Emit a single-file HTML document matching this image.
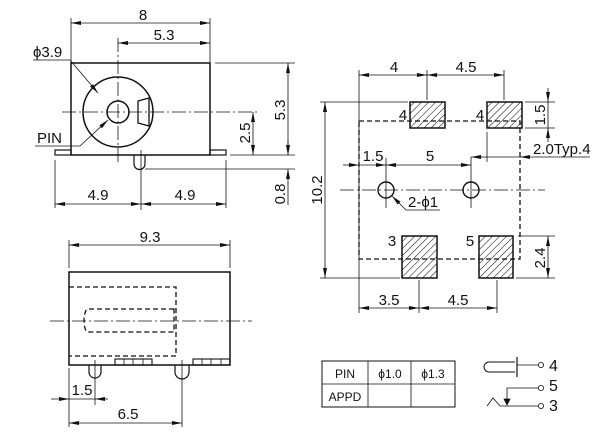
<!DOCTYPE html>
<html><head><meta charset="utf-8"><style>
html,body{margin:0;padding:0;background:#fff;}
svg{display:block;}
text{font-family:"Liberation Sans",sans-serif;font-size:15px;fill:#111;}
</style></head><body>
<svg width="608" height="443" viewBox="0 0 608 443" xmlns="http://www.w3.org/2000/svg">
<defs>
<marker id="a" viewBox="0 0 10 4" refX="10" refY="2" markerWidth="10" markerHeight="4" orient="auto-start-reverse" markerUnits="userSpaceOnUse"><path d="M0,0 L10,2 L0,4z" fill="#111"/></marker>
<pattern id="h" width="5" height="5" patternUnits="userSpaceOnUse" patternTransform="rotate(45)"><line x1="0" y1="0" x2="0" y2="5" stroke="#111" stroke-width="1.1"/></pattern>
</defs>
<g stroke="#111" fill="none" stroke-width="0.8">
<line x1="71" y1="18" x2="71" y2="63"/><line x1="210" y1="18" x2="210" y2="63"/>
<line x1="71" y1="23" x2="210" y2="23" marker-start="url(#a)" marker-end="url(#a)"/>
<line x1="118" y1="43" x2="210" y2="43" marker-start="url(#a)" marker-end="url(#a)"/>
<rect x="71" y="63" width="139" height="92" stroke-width="1.5"/>
<rect x="55" y="150" width="16" height="5" stroke-width="1.2"/>
<rect x="210" y="150" width="16" height="5" stroke-width="1.2"/>
<circle cx="118" cy="112" r="35" stroke-width="1.5"/>
<circle cx="118" cy="112" r="11" stroke-width="1.5"/>
<path d="M138,101 L149,98 L149,126 L138,123z" stroke-width="1.3"/>
<path d="M134,155 L134,164 A5.5,5.5 0 0 0 145,164 L145,155" stroke-width="1.2"/>
<line x1="62" y1="112" x2="258" y2="112" stroke-dasharray="14,3,2,3"/>
<line x1="118" y1="38" x2="118" y2="162" stroke-dasharray="14,3,2,3"/>
<line x1="33" y1="60" x2="70" y2="60"/><line x1="70" y1="60" x2="98" y2="93" marker-end="url(#a)"/>
<line x1="35" y1="146" x2="80" y2="146"/><line x1="80" y1="146" x2="108" y2="120" marker-end="url(#a)"/>
<line x1="215" y1="63" x2="295" y2="63"/><line x1="230" y1="155" x2="295" y2="155"/>
<line x1="145" y1="169" x2="295" y2="169"/>
<line x1="253" y1="112" x2="253" y2="155" marker-start="url(#a)" marker-end="url(#a)"/>
<line x1="288" y1="63" x2="288" y2="155" marker-start="url(#a)" marker-end="url(#a)"/>
<line x1="288" y1="169" x2="288" y2="205" marker-start="url(#a)"/>
<line x1="288" y1="140" x2="288" y2="155" marker-end="url(#a)"/>
<line x1="141" y1="150" x2="141" y2="210"/>
<line x1="55" y1="160" x2="55" y2="208"/><line x1="226" y1="160" x2="226" y2="208"/>
<line x1="55" y1="204" x2="141" y2="204" marker-start="url(#a)" marker-end="url(#a)"/>
<line x1="141" y1="204" x2="226" y2="204" marker-start="url(#a)" marker-end="url(#a)"/>
<line x1="69" y1="240" x2="69" y2="268"/><line x1="230" y1="240" x2="230" y2="268"/>
<line x1="69" y1="245" x2="230" y2="245" marker-start="url(#a)" marker-end="url(#a)"/>
<rect x="69" y="272" width="161" height="93" stroke-width="1.5"/>
<path d="M69,287 L176,287 L176,356 L69,356" stroke-dasharray="5,3" stroke-width="1.3"/>
<path d="M174,309 L88,309 A4,11.5 0 0 0 88,332 L174,332 Z" stroke-dasharray="5,3" stroke-width="1.3"/>
<line x1="50" y1="321" x2="252" y2="321" stroke-dasharray="14,3,2,3"/>
<rect x="115" y="359" width="37" height="6" stroke-width="1.1"/>
<line x1="124" y1="359" x2="124" y2="365"/><line x1="133" y1="359" x2="133" y2="365"/><line x1="143" y1="359" x2="143" y2="365"/>
<rect x="193" y="359" width="37" height="6" stroke-width="1.1"/>
<line x1="202" y1="359" x2="202" y2="365"/><line x1="211" y1="359" x2="211" y2="365"/><line x1="221" y1="359" x2="221" y2="365"/>
<path d="M89,365 L89,372 A6,6 0 0 0 101,372 L101,365" stroke-width="1.2"/>
<path d="M175,365 L175,372 A7,7 0 0 0 189,372 L189,365" stroke-width="1.2"/>
<line x1="95" y1="360" x2="95" y2="405"/><line x1="182" y1="360" x2="182" y2="427"/>
<line x1="69" y1="368" x2="69" y2="427"/>
<line x1="51" y1="399" x2="69" y2="399" marker-end="url(#a)"/>
<line x1="95" y1="399" x2="108" y2="399" marker-start="url(#a)"/>
<line x1="69" y1="399" x2="95" y2="399"/>
<line x1="69" y1="423" x2="182" y2="423" marker-start="url(#a)" marker-end="url(#a)"/>
<line x1="359" y1="70" x2="359" y2="313"/><line x1="427" y1="70" x2="427" y2="100"/><line x1="504" y1="70" x2="504" y2="100"/>
<line x1="359" y1="75" x2="427" y2="75" marker-start="url(#a)" marker-end="url(#a)"/>
<line x1="427" y1="75" x2="504" y2="75" marker-start="url(#a)" marker-end="url(#a)"/>
<rect x="359" y="121" width="161" height="138" stroke-dasharray="5,3" stroke-width="1.3"/>
<rect x="410" y="102" width="35" height="26" fill="url(#h)" stroke-width="1.5"/>
<rect x="487" y="102" width="35" height="26" fill="url(#h)" stroke-width="1.5"/>
<rect x="402" y="236" width="35" height="42" fill="url(#h)" stroke-width="1.5"/>
<rect x="479" y="236" width="34" height="42" fill="url(#h)" stroke-width="1.5"/>
<line x1="525" y1="102" x2="555" y2="102"/><line x1="525" y1="128" x2="555" y2="128"/>
<line x1="548" y1="88" x2="548" y2="102" marker-end="url(#a)"/>
<line x1="548" y1="102" x2="548" y2="128"/>
<line x1="548" y1="142" x2="548" y2="128" marker-end="url(#a)"/>
<line x1="487" y1="132" x2="487" y2="162"/>
<line x1="471" y1="157" x2="471" y2="175"/>
<line x1="471" y1="157" x2="487" y2="157" marker-start="url(#a)"/>
<line x1="487" y1="157" x2="520" y2="157"/>
<line x1="590" y1="157" x2="520" y2="157" marker-end="url(#a)"/>
<line x1="320" y1="102" x2="408" y2="102"/><line x1="320" y1="278" x2="400" y2="278"/>
<line x1="325" y1="102" x2="325" y2="278" marker-start="url(#a)" marker-end="url(#a)"/>
<line x1="343" y1="165" x2="359" y2="165" marker-end="url(#a)"/>
<line x1="359" y1="165" x2="386" y2="165" marker-end="url(#a)"/>
<line x1="386" y1="165" x2="471" y2="165" marker-start="url(#a)" marker-end="url(#a)"/>
<line x1="340" y1="190" x2="545" y2="190" stroke-dasharray="14,3,2,3"/>
<line x1="386" y1="158" x2="386" y2="208"/><line x1="471" y1="175" x2="471" y2="208"/>
<circle cx="386" cy="190" r="8" stroke-width="1.4"/>
<circle cx="471" cy="190" r="8" stroke-width="1.4"/>
<line x1="406" y1="210" x2="392" y2="196" marker-end="url(#a)"/><line x1="406" y1="210" x2="440" y2="210"/>
<line x1="518" y1="236" x2="555" y2="236"/><line x1="516" y1="278" x2="555" y2="278"/>
<line x1="548" y1="236" x2="548" y2="278" marker-start="url(#a)" marker-end="url(#a)"/>
<line x1="419" y1="280" x2="419" y2="313"/><line x1="497" y1="280" x2="497" y2="313"/>
<line x1="359" y1="308" x2="419" y2="308" marker-start="url(#a)" marker-end="url(#a)"/>
<line x1="419" y1="308" x2="497" y2="308" marker-start="url(#a)" marker-end="url(#a)"/>
<rect x="322" y="361" width="133" height="46" stroke-width="1"/>
<line x1="322" y1="384" x2="455" y2="384"/><line x1="368" y1="361" x2="368" y2="407"/><line x1="411" y1="361" x2="411" y2="407"/>
<path d="M515,362 L489,362 A5,5 0 0 0 489,372 L515,372" stroke-width="1"/>
<line x1="517" y1="357" x2="517" y2="377" stroke-width="1.2"/>
<line x1="517" y1="365" x2="538" y2="365"/><circle cx="541" cy="365" r="2.6"/>
<circle cx="541" cy="388" r="2.6"/><path d="M538,388 L507,388 L507,404"/>
<path d="M504,399 L507,405 L510,399z" fill="#111"/>
<circle cx="541" cy="406" r="2.6"/><path d="M487,406 L493,398 L500,406 L538,406"/>
</g>
<g>
<text x="143" y="20" text-anchor="middle">8</text>
<text x="164" y="40" text-anchor="middle">5.3</text>
<text x="33" y="57">ϕ3.9</text>
<text x="37" y="143">PIN</text>
<text x="98" y="200" text-anchor="middle">4.9</text>
<text x="185" y="200" text-anchor="middle">4.9</text>
<text transform="translate(250,133) rotate(-90)" text-anchor="middle">2.5</text>
<text transform="translate(285,110) rotate(-90)" text-anchor="middle">5.3</text>
<text transform="translate(285,194) rotate(-90)" text-anchor="middle">0.8</text>
<text x="150" y="242" text-anchor="middle">9.3</text>
<text x="82" y="395" text-anchor="middle">1.5</text>
<text x="128" y="419" text-anchor="middle">6.5</text>
<text x="394" y="72" text-anchor="middle">4</text>
<text x="466" y="72" text-anchor="middle">4.5</text>
<text x="403" y="120" text-anchor="middle">4</text>
<text x="480" y="120" text-anchor="middle">4</text>
<text x="533" y="154">2.0Typ.4</text>
<text x="373" y="161" text-anchor="middle">1.5</text>
<text x="430" y="161" text-anchor="middle">5</text>
<text x="408" y="207">2-ϕ1</text>
<text x="392" y="246" text-anchor="middle">3</text>
<text x="470" y="246" text-anchor="middle">5</text>
<text transform="translate(322,190) rotate(-90)" text-anchor="middle">10.2</text>
<text transform="translate(545,115) rotate(-90)" text-anchor="middle">1.5</text>
<text transform="translate(545,258) rotate(-90)" text-anchor="middle">2.4</text>
<text x="389" y="305" text-anchor="middle">3.5</text>
<text x="458" y="305" text-anchor="middle">4.5</text>
<text x="345" y="378" text-anchor="middle" style="font-size:12px">PIN</text>
<text x="390" y="378" text-anchor="middle" style="font-size:12px">ϕ1.0</text>
<text x="433" y="378" text-anchor="middle" style="font-size:12px">ϕ1.3</text>
<text x="345" y="401" text-anchor="middle" style="font-size:12px">APPD</text>
<text x="549" y="371" style="font-size:16px">4</text>
<text x="549" y="391" style="font-size:16px">5</text>
<text x="549" y="411" style="font-size:16px">3</text>
</g>
</svg>
</body></html>
